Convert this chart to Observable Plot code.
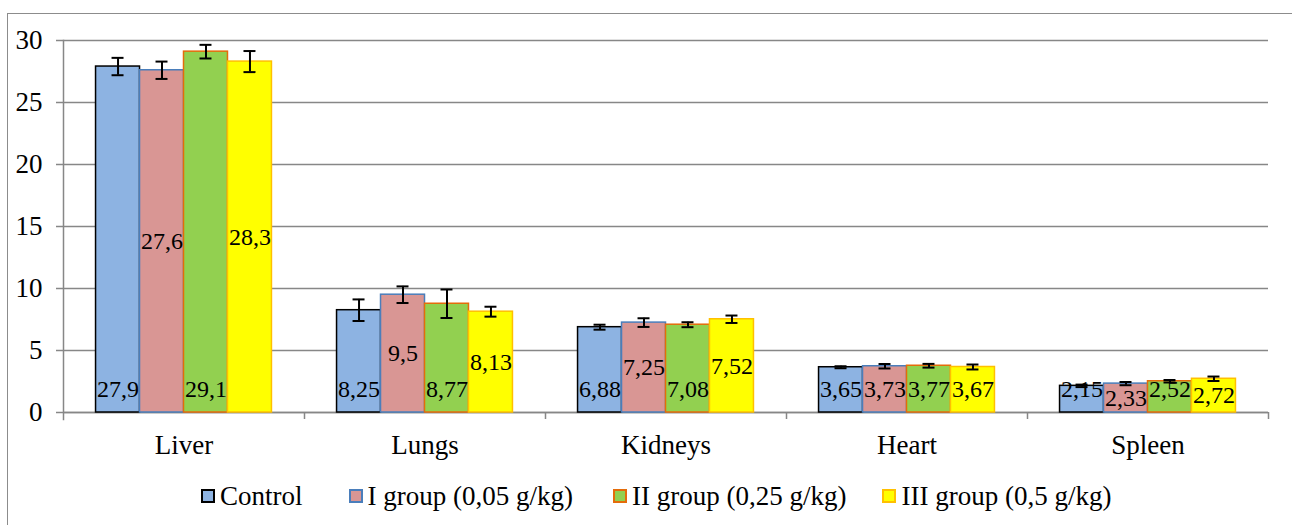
<!DOCTYPE html>
<html>
<head>
<meta charset="utf-8">
<script src="https://cdn.jsdelivr.net/npm/d3@7"></script>
<script src="https://cdn.jsdelivr.net/npm/@observablehq/plot@0.6"></script>
<style>
  html, body { margin: 0; padding: 0; background: #fff; overflow: hidden; width: 1292px; height: 525px; }
  #wrap { position: relative; width: 1292px; height: 525px; }
  #border { position: absolute; left: 7px; top: 13px; width: 1310px; height: 620px; border: 1.5px solid #8c8c8c; box-sizing: border-box; pointer-events: none; }
  #chart { position: absolute; left: 0; top: 0; }
  #legend { position: absolute; left: 201px; top: 481px; height: 30px; display: flex; align-items: center; font-family: "Liberation Serif", "Times New Roman", serif; font-size: 27px; color: #000; white-space: nowrap; }
  .item { display: flex; align-items: center; }
  .sw { width: 10px; height: 10px; border: 2px solid; margin-right: 5px; }
  .lt { display: inline-block; line-height: 30px; }
</style>
</head>
<body>
<div id="wrap">
  <div id="chart"></div>
  <div id="legend"></div>
  <div id="border"></div>
</div>
<script>
// ---- data ----
const categories = ["Liver", "Lungs", "Kidneys", "Heart", "Spleen"];
const groups = ["Control", "I group (0,05 g/kg)", "II group (0,25 g/kg)", "III group (0,5 g/kg)"];
const controlValues = [27.9, 8.25, 6.88, 3.65, 2.15];
const group1Values  = [27.6, 9.5, 7.25, 3.73, 2.33];
const group2Values  = [29.1, 8.77, 7.08, 3.77, 2.52];
const group3Values  = [28.3, 8.13, 7.52, 3.67, 2.72];
const controlErrors = [0.7, 0.87, 0.2, 0.08, 0.1];
const group1Errors  = [0.7, 0.67, 0.35, 0.18, 0.13];
const group2Errors  = [0.55, 1.15, 0.2, 0.15, 0.1];
const group3Errors  = [0.85, 0.4, 0.3, 0.2, 0.18];
const yTicks = [0, 5, 10, 15, 20, 25, 30];

// ---- style ----
const fills   = ["#8db3e2", "#d99694", "#92d050", "#ffff00"];
const strokes = ["#000000", "#4a7ebb", "#e46c0a", "#ffc000"];
const GRID = "#878787";
const FONT = '"Liberation Serif", "Times New Roman", serif';
const W = 1292, H = 470, ML = 63, MR = 24, MT = 40, MB = 58;
const BW = (W - ML - MR) / categories.length;

const valueSets = [controlValues, group1Values, group2Values, group3Values];
const errorSets = [controlErrors, group1Errors, group2Errors, group3Errors];
const rows = categories.flatMap((c, i) => groups.map((g, j) => ({
  category: c, group: g, gi: j, value: valueSets[j][i], err: errorSets[j][i]
})));
const fmt = v => String(v).replace(".", ",");
const baseRows = rows.filter(d => d.gi === 0 || d.gi === 2);
const centerRows = rows.filter(d => d.gi === 1 || d.gi === 3);

const plot = Plot.plot({
  width: W, height: H,
  marginTop: MT, marginBottom: MB, marginLeft: ML, marginRight: MR,
  style: { fontFamily: FONT, fontSize: "27px", color: "#000", background: "transparent" },
  fx: { domain: categories, padding: 0, round: false, label: null },
  x: { domain: groups, paddingInner: 0, paddingOuter: 0.74, round: false, axis: null },
  y: { domain: [0, 30], label: null },
  color: { domain: groups, range: fills },
  marks: [
    Plot.gridY(yTicks, { stroke: GRID, strokeOpacity: 1, strokeWidth: 1.5 }),
    Plot.ruleY([0], { stroke: GRID, strokeWidth: 1.5 }),
    Plot.frame({ anchor: "left", facetAnchor: "left", stroke: GRID, strokeWidth: 1.5, insetBottom: -7 }),
    Plot.axisY(yTicks, { tickSize: 7, tickPadding: 14, stroke: GRID, strokeWidth: 1.5, fill: "#000", label: null, fontSize: 27 }),
    Plot.axisFx({ anchor: "bottom", tickSize: 0, tickPadding: 22, label: null, fill: "#000", fontSize: 27 }),
    Plot.axisFx({ anchor: "bottom", text: null, tickSize: 7, dx: BW / 2, stroke: GRID, strokeWidth: 1.5, label: null }),
    Plot.barY(rows, { fx: "category", x: "group", y: "value", fill: "group",
      stroke: d => strokes[d.gi], strokeWidth: 1.5 }),
    Plot.ruleX(rows, { fx: "category", x: "group", y1: d => d.value - d.err, y2: d => d.value + d.err,
      stroke: "#000", strokeWidth: 2 }),
    Plot.tickY(rows, { fx: "category", x: "group", y: d => d.value + d.err, insetLeft: 16, insetRight: 16,
      stroke: "#000", strokeWidth: 2 }),
    Plot.tickY(rows, { fx: "category", x: "group", y: d => d.value - d.err, insetLeft: 16, insetRight: 16,
      stroke: "#000", strokeWidth: 2 }),
    Plot.text(baseRows, { fx: "category", x: "group", y: 0, dy: -23, text: d => fmt(d.value),
      fill: "#000", fontSize: 24 }),
    Plot.text(centerRows, { fx: "category", x: "group", y: d => d.value / 2, text: d => fmt(d.value),
      fill: "#000", fontSize: 24 })
  ]
});
document.getElementById("chart").appendChild(plot);

// legend
const legend = document.getElementById("legend");
const gaps = [46, 40, 36, 0];
groups.forEach((g, j) => {
  const item = document.createElement("div");
  item.className = "item";
  item.style.marginRight = gaps[j] + "px";
  const sw = document.createElement("div");
  sw.className = "sw";
  sw.style.background = fills[j];
  sw.style.borderColor = strokes[j];
  const lt = document.createElement("span");
  lt.className = "lt";
  lt.textContent = g;
  item.appendChild(sw); item.appendChild(lt);
  legend.appendChild(item);
});
</script>
</body>
</html>
